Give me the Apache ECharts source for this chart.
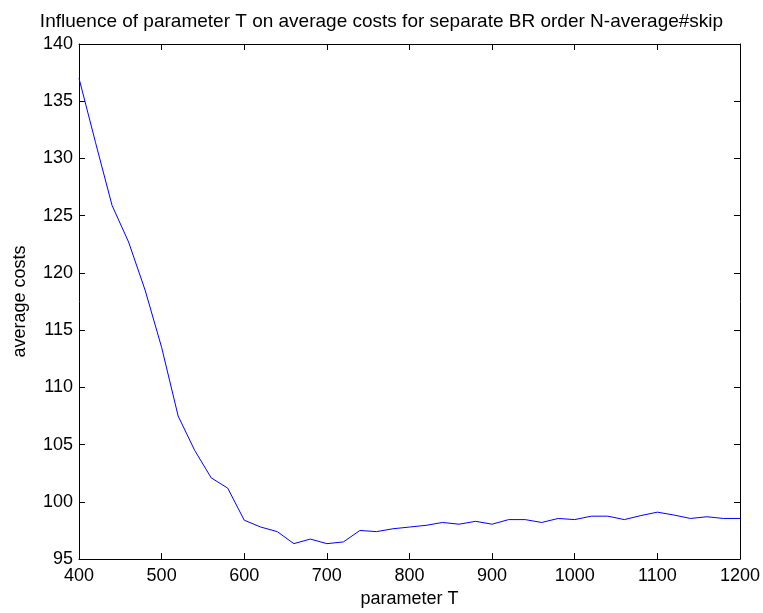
<!DOCTYPE html>
<html>
<head>
<meta charset="utf-8">
<script src="https://cdn.jsdelivr.net/npm/echarts@6/dist/echarts.min.js"></script>
<style>
html,body{margin:0;padding:0;background:#fff;}
#c{width:763px;height:613px;}
</style>
</head>
<body>
<div id="c"></div>
<script>
const titleText = 'Influence of parameter T on average costs for separate BR order N-average#skip';
const xName = 'parameter T';
const yName = 'average costs';
const paramT = [400,420,440,460,480,500,520,540,560,580,600,620,640,660,680,700,720,740,760,780,800,820,840,860,880,900,920,940,960,980,1000,1020,1040,1060,1080,1100,1120,1140,1160,1180,1200];
const avgCosts = [137.0,131.4,125.9,122.7,118.5,113.5,107.5,104.5,102.1,101.2,98.4,97.8,97.4,96.35,96.75,96.35,96.5,97.5,97.4,97.65,97.8,97.95,98.2,98.05,98.3,98.05,98.45,98.45,98.2,98.55,98.45,98.75,98.75,98.45,98.8,99.1,98.85,98.55,98.7,98.55,98.55];
const xMin = 400, xMax = 1200, xStep = 100;
const yMin = 95, yMax = 140, yStep = 5;

const font = 'Liberation Sans, Arial, sans-serif';
const chart = echarts.init(document.getElementById('c'), null, {renderer: 'canvas'});
const axisLine = {show: true, lineStyle: {color: '#000', width: 1}};
const ticks = {show: true, inside: true, length: 6, lineStyle: {color: '#000', width: 1}};
chart.setOption({
  animation: false,
  backgroundColor: '#fff',
  title: {
    text: titleText, left: 'center', top: 7,
    textStyle: {fontFamily: font, fontSize: 19, fontWeight: 'normal', color: '#000'}
  },
  grid: {left: 79, right: 22, top: 44, bottom: 50, containLabel: false},
  xAxis: [{
    type: 'value', min: xMin, max: xMax, interval: xStep,
    name: xName, nameLocation: 'middle', nameGap: 30,
    nameTextStyle: {fontFamily: font, fontSize: 18, color: '#000'},
    axisLine: axisLine, axisTick: ticks,
    axisLabel: {fontFamily: font, fontSize: 18, color: '#000', margin: 8, formatter: v => String(v)},
    splitLine: {show: false}
  }, {
    type: 'value', position: 'top', min: xMin, max: xMax, interval: xStep,
    axisLine: axisLine, axisTick: ticks, axisLabel: {show: false}, splitLine: {show: false}
  }],
  yAxis: [{
    type: 'value', min: yMin, max: yMax, interval: yStep,
    name: yName, nameLocation: 'middle', nameGap: 50,
    nameTextStyle: {fontFamily: font, fontSize: 18, color: '#000'},
    axisLine: axisLine, axisTick: ticks,
    axisLabel: {fontFamily: font, fontSize: 18, color: '#000', margin: 6, formatter: v => String(v)},
    splitLine: {show: false}
  }, {
    type: 'value', position: 'right', min: yMin, max: yMax, interval: yStep,
    axisLine: axisLine, axisTick: ticks, axisLabel: {show: false}, splitLine: {show: false}
  }],
  series: [{
    type: 'line',
    data: paramT.map((t, i) => [t, avgCosts[i]]),
    showSymbol: false, symbol: 'none',
    lineStyle: {color: '#0000ff', width: 1},
    itemStyle: {color: '#0000ff'}
  }]
});
</script>
</body>
</html>
